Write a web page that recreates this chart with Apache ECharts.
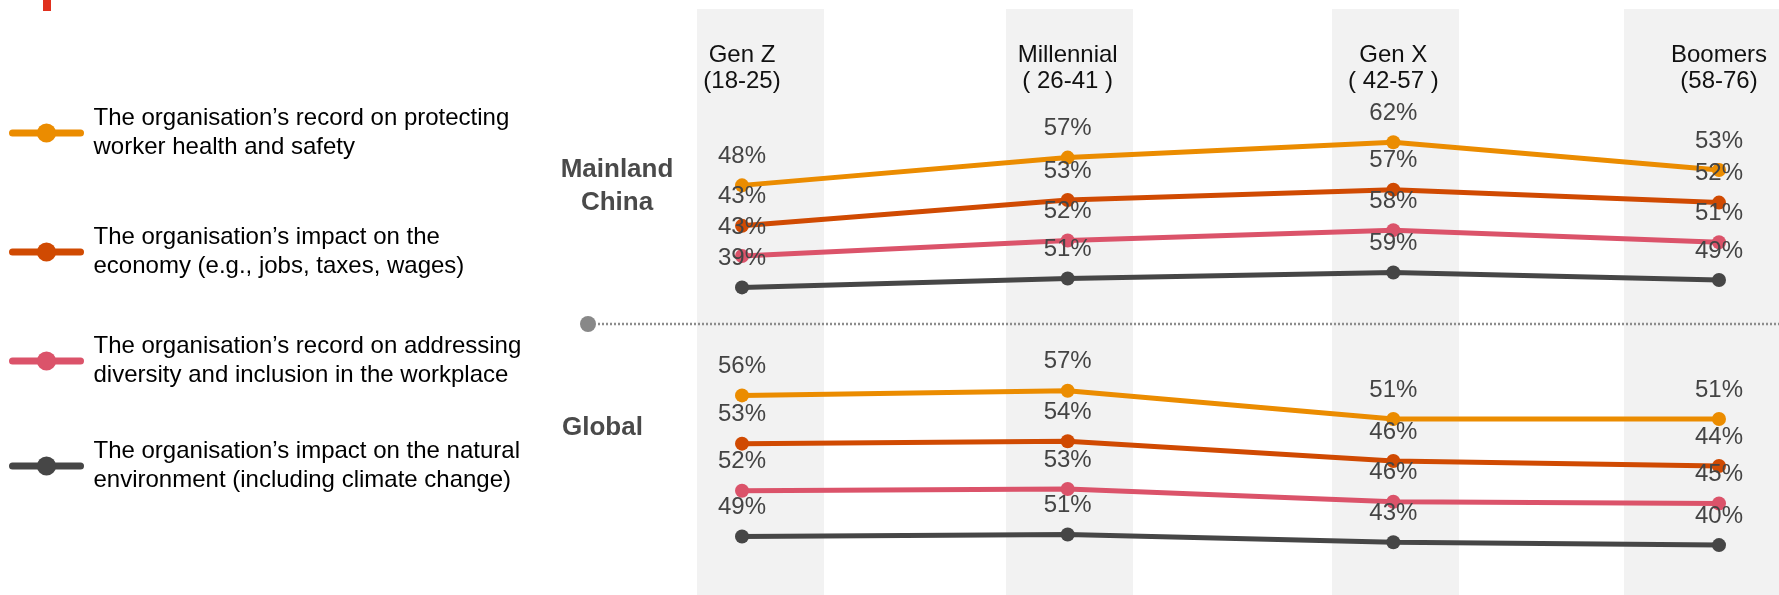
<!DOCTYPE html>
<html>
<head>
<meta charset="utf-8">
<script src="https://cdn.jsdelivr.net/npm/echarts@6/dist/echarts.min.js"></script>
<style>
  html, body { margin: 0; padding: 0; background: #ffffff; }
  #chart { width: 1779px; height: 595px; }
</style>
</head>
<body>
<div id="chart"></div>
<script>
// Generations along the x axis
const generations = ['Gen Z', 'Millennial', 'Gen X', 'Boomers'];
const ageRanges = ['(18-25)', '( 26-41 )', '( 42-57 )', '(58-76)'];

// Regions
const regions = ['Mainland\nChina', 'Global'];

// Measures (legend entries)
const measures = [
  'The organisation\u2019s record on protecting\nworker health and safety',
  'The organisation\u2019s impact on the\neconomy (e.g., jobs, taxes, wages)',
  'The organisation\u2019s record on addressing\ndiversity and inclusion in the workplace',
  'The organisation\u2019s impact on the natural\nenvironment (including climate change)'
];

// Share of respondents (%) – Mainland China
const mainlandHealth      = [48, 57, 62, 53];
const mainlandEconomy     = [43, 53, 57, 52];
const mainlandDiversity   = [43, 52, 58, 51];
const mainlandEnvironment = [39, 51, 59, 49];

// Share of respondents (%) – Global
const globalHealth      = [56, 57, 51, 51];
const globalEconomy     = [53, 54, 46, 44];
const globalDiversity   = [52, 53, 46, 45];
const globalEnvironment = [49, 51, 43, 40];

const colors = ['#eb8c00', '#d04a02', '#db536a', '#464646'];
const FONT = '"Liberation Sans", Arial, Helvetica, sans-serif';

// Each line sits in its own horizontal strip so the four measures stack
const seriesDefs = [
  { data: mainlandHealth,      m: 0, top: 117.5, height: 123.4 },
  { data: mainlandEconomy,     m: 1, top: 156.1, height: 103.3 },
  { data: mainlandDiversity,   m: 2, top: 209.4, height: 69.1 },
  { data: mainlandEnvironment, m: 3, top: 264.3, height: 29.8 },
  { data: globalHealth,        m: 0, top: 329.4, height: 188.6 },
  { data: globalEconomy,       m: 1, top: 401.6, height: 99.0 },
  { data: globalDiversity,     m: 2, top: 458.0, height: 72.8 },
  { data: globalEnvironment,   m: 3, top: 516.3, height: 38.4 }
];

const grids = [], xAxes = [], yAxes = [], series = [];
seriesDefs.forEach((d, i) => {
  grids.push({ left: 742, right: 60, top: d.top, height: d.height, containLabel: false });
  xAxes.push({
    type: 'category',
    gridIndex: i,
    data: generations,
    boundaryGap: false,
    position: 'top',
    show: i === 0,
    axisLine: { show: false },
    axisTick: { show: false },
    splitLine: { show: false },
    axisLabel: {
      show: i === 0,
      margin: 23,
      fontFamily: FONT,
      fontSize: 24,
      lineHeight: 26,
      color: '#111111',
      formatter: (v, idx) => v + '\n' + ageRanges[idx]
    }
  });
  yAxes.push({ type: 'value', gridIndex: i, min: 30, max: 70, show: false });
  series.push({
    type: 'line',
    name: measures[d.m],
    xAxisIndex: i,
    yAxisIndex: i,
    data: d.data,
    color: colors[d.m],
    symbol: 'circle',
    symbolSize: 14,
    lineStyle: { width: 5, color: colors[d.m] },
    itemStyle: { color: colors[d.m] },
    label: {
      show: true,
      position: 'top',
      distance: 10,
      fontFamily: FONT,
      fontSize: 24,
      color: '#444444',
      formatter: p => p.value + '%'
    },
    emphasis: { disabled: true },
    z: 3
  });
});

// One legend block per measure, stacked on the left
const legendTops = [103.5, 222.5, 331.5, 436.5];
const legends = measures.map((name, i) => ({
  data: [name],
  left: 9,
  top: legendTops[i],
  padding: 0,
  orient: 'vertical',
  itemWidth: 68,
  itemHeight: 24,
  selectedMode: false,
  lineStyle: { width: 7, cap: 'round' },
  textStyle: {
    fontFamily: FONT,
    fontSize: 24,
    lineHeight: 29.5,
    color: '#000000',
    padding: [0, 0, 0, 8]
  }
}));

// Background column shading, separator and region captions
const bandEdges = [[697, 824], [1006, 1133], [1332, 1459], [1624, 1779]];
const graphics = bandEdges.map(b => ({
  type: 'rect',
  z: -10,
  shape: { x: b[0], y: 9, width: b[1] - b[0], height: 586 },
  style: { fill: '#f2f2f2' }
}));
graphics.push(
  { type: 'rect', shape: { x: 43, y: 0, width: 8, height: 11 }, style: { fill: '#e0301e' } },
  { type: 'line', z: 1, shape: { x1: 598, y1: 324, x2: 1779, y2: 324 },
    style: { stroke: '#8c8c8c', lineWidth: 2.5, lineDash: [2, 2] } },
  { type: 'circle', z: 1, shape: { cx: 588, cy: 324, r: 8 }, style: { fill: '#888888' } },
  { type: 'text', x: 617, y: 186,
    style: { text: regions[0], font: 'bold 26px ' + FONT, lineHeight: 33, fill: '#4a4a4a',
             align: 'center', verticalAlign: 'middle' } },
  { type: 'text', x: 562, y: 428,
    style: { text: regions[1], font: 'bold 26px ' + FONT, fill: '#4a4a4a',
             align: 'left', verticalAlign: 'middle' } }
);

const chart = echarts.init(document.getElementById('chart'), null, { renderer: 'canvas' });
chart.setOption({
  animation: false,
  backgroundColor: '#ffffff',
  grid: grids,
  xAxis: xAxes,
  yAxis: yAxes,
  legend: legends,
  series: series,
  graphic: graphics
});
</script>
</body>
</html>
